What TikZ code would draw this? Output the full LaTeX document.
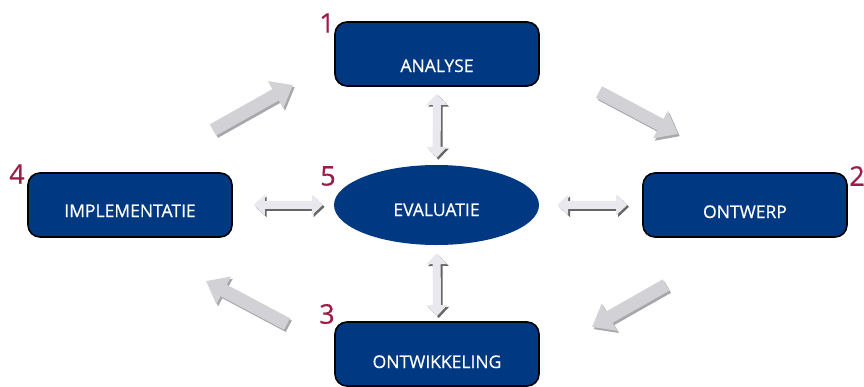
\documentclass[tikz,border=0pt]{standalone}
\usepackage{fontspec}
\setsansfont{Open Sans}
\newfontfamily\fasefont{Open Sans}[FakeBold=0.5]
\usepackage{xcolor}
\usetikzlibrary{arrows.meta}
\usetikzlibrary{shapes.geometric}

\definecolor{fasenblauw}{RGB}{0,56,130}
\definecolor{fasenrood}{RGB}{158,27,72}
\definecolor{pijlgrijs}{RGB}{210,210,214}
\definecolor{pijlrand}{RGB}{168,168,172}
\definecolor{dubbelgrijs}{RGB}{232,232,238}

\begin{document}
\begin{tikzpicture}[x=1pt,y=-1pt]

\tikzset{
    fase/.style = {
    draw=black, line width=1.6pt, rounded corners=12pt,
    fill=fasenblauw, text=white, text depth=0pt,
    minimum width=204pt, minimum height=64pt,
    font=\fasefont\fontsize{17.5}{17.5}\selectfont
    }
}

\tikzstyle{evaluatie}=[ellipse, fill=fasenblauw, text=white, inner sep=0pt,
    minimum width=205pt, minimum height=80pt, text depth=0pt,
    font=\fasefont\fontsize{17.5}{17.5}\selectfont]
\tikzstyle{nummer}=[text=fasenrood, inner sep=0pt, font=\fasefont\fontsize{27}{27}\selectfont]
\tikzstyle{blokpijl}=[line width=13pt, draw=pijlgrijs, -{Triangle[width=30pt,length=20pt]}]
\tikzstyle{blokzijde}=[line width=13pt, draw=pijlrand, -{Triangle[width=30pt,length=20pt]},
    transform canvas={shift={(1.8pt,-2.2pt)}}]
\tikzstyle{dubbelpijl}=[line width=8pt, draw=dubbelgrijs, {Triangle[width=20pt,length=11pt]}-{Triangle[width=20pt,length=11pt]}]
\tikzstyle{dubbelschaduw}=[line width=8pt, draw=black!60, {Triangle[width=20pt,length=11pt]}-{Triangle[width=20pt,length=11pt]},
    transform canvas={shift={(1.8pt,-1.8pt)}}]

\useasboundingbox (0,0) rectangle (864,386);

% fasen
\node (analyse) [fase, text height=36pt] at (437,54) {ANALYSE};
\node (ontwerp) [fase, text height=26pt] at (745,205) {ONTWERP};
\node (implementatie) [fase, text height=24pt] at (130,205) {IMPLEMENTATIE};
\node (ontwikkeling) [fase, text height=28pt] at (437,354) {ONTWIKKELING};
\node (eval) [evaluatie, text height=22pt] at (436.5,205) {EVALUATIE};

% nummers
\node (n1) [nummer] at (327,23) {1};
\node (n2) [nummer] at (857,176) {2};
\node (n3) [nummer] at (327,314) {3};
\node (n4) [nummer] at (17,174) {4};
\node (n5) [nummer] at (328,176) {5};

% kringloop
\coordinate (a1) at (213,130);
\coordinate (b1) at (293,85);
\coordinate (a2) at (599,92);
\coordinate (b2) at (678,134);
\coordinate (a3) at (666,285);
\coordinate (b3) at (592,327);
\coordinate (a4) at (287,324);
\coordinate (b4) at (206,281);

\foreach \a/\b in {a1/b1, a2/b2, a3/b3, a4/b4} {
    \draw[blokzijde] (\a) -- (\b);
    \draw[blokpijl] (\a) -- (\b);
}

% evaluatie met elke fase
\draw[dubbelschaduw, shorten <=7pt, shorten >=7pt] (analyse) -- (eval);
\draw[dubbelpijl, shorten <=7pt, shorten >=7pt] (analyse) -- (eval);
\draw[dubbelschaduw, shorten <=8pt, shorten >=5pt] (eval) -- (ontwikkeling);
\draw[dubbelpijl, shorten <=8pt, shorten >=5pt] (eval) -- (ontwikkeling);
\draw[dubbelschaduw, shorten <=21pt, shorten >=11pt] (implementatie) -- (eval);
\draw[dubbelpijl, shorten <=21pt, shorten >=11pt] (implementatie) -- (eval);
\draw[dubbelschaduw, shorten <=18pt, shorten >=15pt] (eval) -- (ontwerp);
\draw[dubbelpijl, shorten <=18pt, shorten >=15pt] (eval) -- (ontwerp);

\end{tikzpicture}
\end{document}
